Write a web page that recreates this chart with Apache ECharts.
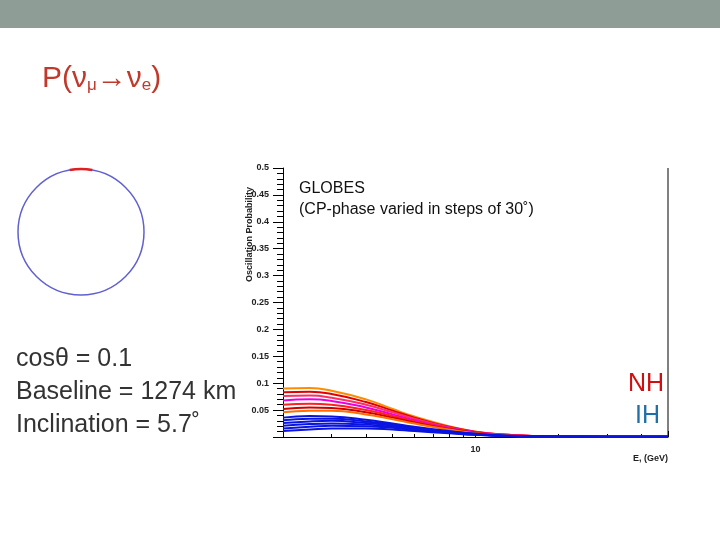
<!DOCTYPE html>
<html><head><meta charset="utf-8">
<script src="https://cdn.jsdelivr.net/npm/echarts@6/dist/echarts.min.js"></script>
<style>html,body{margin:0;background:#fff}#c{width:720px;height:540px}</style>
</head><body><div id="c"></div>
<script>
// energy grid (GeV)
var energies = [2, 2.5, 3, 4, 5, 6, 8, 10, 13, 16, 20, 30, 50];
// normal hierarchy curves, various CP phases
var nhCurves = [
  [0.090, 0.091, 0.086, 0.070, 0.052, 0.038, 0.020, 0.010, 0.004, 0.002, 0.001, 0.000, 0.000],
  [0.083, 0.084, 0.080, 0.065, 0.049, 0.036, 0.019, 0.010, 0.004, 0.002, 0.001, 0.000, 0.000],
  [0.076, 0.077, 0.073, 0.060, 0.046, 0.034, 0.018, 0.009, 0.004, 0.002, 0.001, 0.000, 0.000],
  [0.068, 0.070, 0.067, 0.055, 0.042, 0.031, 0.017, 0.009, 0.004, 0.002, 0.001, 0.000, 0.000],
  [0.060, 0.062, 0.060, 0.050, 0.039, 0.029, 0.016, 0.008, 0.003, 0.002, 0.001, 0.000, 0.000],
  [0.052, 0.055, 0.054, 0.046, 0.036, 0.027, 0.015, 0.008, 0.003, 0.002, 0.001, 0.000, 0.000],
  [0.046, 0.049, 0.049, 0.042, 0.033, 0.025, 0.014, 0.007, 0.003, 0.001, 0.001, 0.000, 0.000]
];
var nhColors = ['#ff8c00', '#e00000', '#ff3060', '#e800e0', '#ff2020', '#d00000', '#ff7000'];
// inverted hierarchy curves
var ihCurves = [
  [0.036, 0.039, 0.038, 0.032, 0.025, 0.019, 0.011, 0.006, 0.003, 0.001, 0.001, 0.000, 0.000],
  [0.031, 0.034, 0.034, 0.029, 0.023, 0.017, 0.010, 0.006, 0.002, 0.001, 0.001, 0.000, 0.000],
  [0.026, 0.029, 0.030, 0.026, 0.021, 0.016, 0.009, 0.005, 0.002, 0.001, 0.000, 0.000, 0.000],
  [0.021, 0.024, 0.025, 0.023, 0.019, 0.015, 0.009, 0.005, 0.002, 0.001, 0.000, 0.000, 0.000],
  [0.016, 0.019, 0.021, 0.020, 0.017, 0.013, 0.008, 0.004, 0.002, 0.001, 0.000, 0.000, 0.000],
  [0.011, 0.014, 0.016, 0.016, 0.014, 0.011, 0.007, 0.004, 0.002, 0.001, 0.000, 0.000, 0.000]
];

var series = [];
function addCurves(curves, colorFor) {
  curves.forEach(function (c, i) {
    series.push({
      type: 'line', showSymbol: false, smooth: true,
      lineStyle: { width: 2, color: colorFor(i) },
      data: c.map(function (v, k) { return [energies[k], Math.max(v, 0.0005)]; })
    });
  });
}
addCurves(nhCurves, function (i) { return nhColors[i % nhColors.length]; });
addCurves(ihCurves, function () { return '#0a14e0'; });

var chart = echarts.init(document.getElementById('c'));
var font = 'Liberation Sans, Arial, sans-serif';
var red = '#c0392b';
chart.setOption({
  animation: false,
  grid: { left: 283, right: 52, top: 168, bottom: 103 },
  xAxis: {
    type: 'log', min: 2, max: 50, logBase: 10,
    axisLine: { lineStyle: { color: '#000' } },
    axisTick: { inside: true, length: 6, lineStyle: { color: '#000' } },
    minorTick: { show: true, splitNumber: 9 },
    axisLabel: { fontWeight: 'bold', fontSize: 9, color: '#222', margin: 8, showMinLabel: false, showMaxLabel: false, fontFamily: font },
    splitLine: { show: false }
  },
  yAxis: {
    type: 'value', min: 0, max: 0.5, interval: 0.05,
    axisLine: { show: true, lineStyle: { color: '#000' } },
    axisTick: { inside: false, length: 10, lineStyle: { color: '#000' } },
    minorTick: { show: true, splitNumber: 5, length: 6 },
    axisLabel: {
      fontWeight: 'bold', fontSize: 9, color: '#222', margin: 14, fontFamily: font,
      formatter: function (v) { return v === 0 ? '' : String(+v.toFixed(2)); }
    },
    splitLine: { show: false }
  },
  series: series,
  graphic: [
    { type: 'rect', shape: { x: 0, y: 0, width: 720, height: 28 }, style: { fill: '#8e9e96' } },
    { type: 'line', shape: { x1: 668, y1: 168, x2: 668, y2: 437 }, style: { stroke: '#000', lineWidth: 1 } },
    { type: 'text', left: 42, top: 64, style: {
      text: '{b|P(ν}{s|μ}{b|→ν}{s|e}{b|)}', fontFamily: font,
      rich: { b: { fontSize: 30, fill: red, fontFamily: font, verticalAlign: 'bottom' },
              s: { fontSize: 17, fill: red, fontFamily: font, padding: [14, 0, 0, 0], verticalAlign: 'bottom' } } } },
    { type: 'circle', shape: { cx: 81, cy: 232, r: 63 }, style: { fill: 'none', stroke: '#6060d0', lineWidth: 1.5 } },
    { type: 'arc', shape: { cx: 81, cy: 232, r: 63, startAngle: -Math.PI / 2 - 0.18, endAngle: -Math.PI / 2 + 0.18 }, style: { stroke: '#e02020', lineWidth: 2.5, fill: 'none' } },
    { type: 'text', left: 16, top: 343, style: { text: 'cosθ = 0.1\nBaseline = 1274 km\nInclination = 5.7˚', fontSize: 25, lineHeight: 33, fill: '#333', fontFamily: font } },
    { type: 'text', left: 299, top: 178, style: { text: 'GLOBES\n(CP-phase varied in steps of 30˚)', fontSize: 16, lineHeight: 21, fill: '#111', fontFamily: font } },
    { type: 'text', x: 245, y: 282, rotation: Math.PI / 2, style: { text: 'Oscillation Probability', fontSize: 9, fontWeight: 'bold', fill: '#222', fontFamily: font } },
    { type: 'text', right: 52, top: 454, style: { text: 'E, (GeV)', fontSize: 9, fontWeight: 'bold', fill: '#222', fontFamily: font } },
    { type: 'text', right: 56, top: 372, style: { text: 'NH', fontSize: 25, fill: '#d01010', fontFamily: font } },
    { type: 'text', right: 60, top: 404, style: { text: 'IH', fontSize: 25, fill: '#1f6fa8', fontFamily: font } }
  ]
});
</script></body></html>
